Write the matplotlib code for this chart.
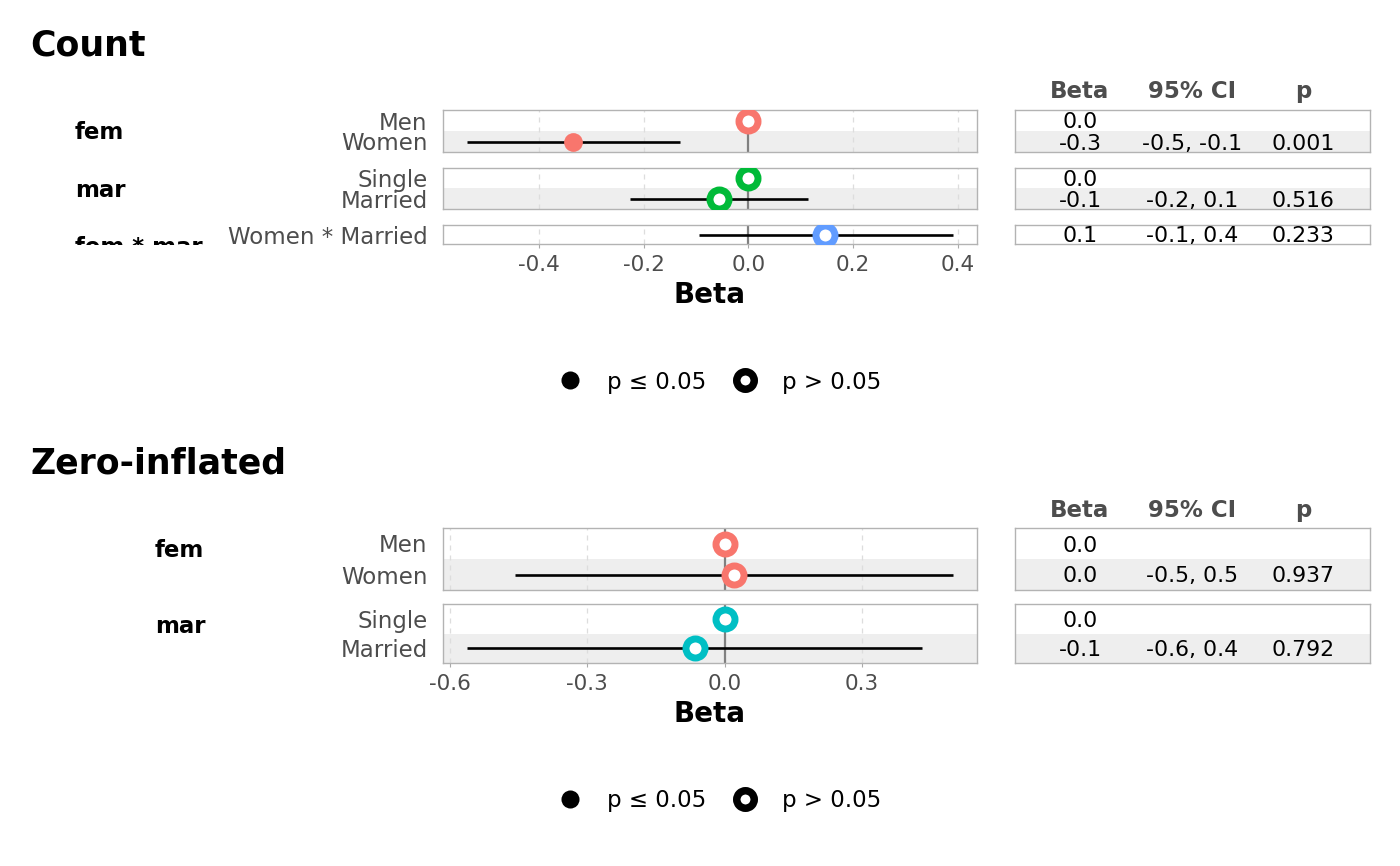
import matplotlib
matplotlib.use("Agg")
import matplotlib.pyplot as plt
import numpy as np
from matplotlib.lines import Line2D

plt.rcParams["font.family"] = ["DejaVu Sans"]
plt.rcParams["axes.unicode_minus"] = False

# === DATA ===
nan = np.nan

count_terms = ["fem", "mar", "fem * mar"]
count_levels = [["Men", "Women"], ["Single", "Married"], ["Women * Married"]]
count_beta = [[0.0, -0.335], [0.0, -0.057], [0.147]]
count_low = [[nan, -0.537], [nan, -0.227], [-0.095]]
count_high = [[nan, -0.130], [nan, 0.114], [0.390]]
count_p = [[nan, 0.001], [nan, 0.516], [0.233]]
count_colors = ["#F8766D", "#00BA38", "#619CFF"]
count_ticks = [-0.4, -0.2, 0.0, 0.2, 0.4]

zero_terms = ["fem", "mar"]
zero_levels = [["Men", "Women"], ["Single", "Married"]]
zero_beta = [[0.0, 0.0195], [0.0, -0.065]]
zero_low = [[nan, -0.458], [nan, -0.562]]
zero_high = [[nan, 0.498], [nan, 0.430]]
zero_p = [[nan, 0.937], [nan, 0.792]]
zero_colors = ["#F8766D", "#00BFC4"]
zero_ticks = [-0.6, -0.3, 0.0, 0.3]

table_headers = ["Beta", "95% CI", "p"]

# === LAYOUT (pixels) ===
W, H = 1400, 866
FS_TICK = 15.5     # x tick labels
FS_LABEL = 16.5    # y labels, strips, legend, headers
TEXT_GREY = "#4D4D4D"
BORDER = "#B3B3B3"

fig = plt.figure(figsize=(W / 100, H / 100), dpi=100)


def box(x0, y0, x1, y1):
    return [x0 / W, 1 - y1 / H, (x1 - x0) / W, (y1 - y0) / H]


def draw_section(title, terms, levels, beta, low, high, pvals, colors, ticks,
                 panels_y, strip_x, title_y, header_y, legend_y):
    vals = [v for grp in (beta + low + high) for v in grp if not np.isnan(v)]
    lo, hi = min(vals), max(vals)
    span = hi - lo
    xlim = (lo - 0.05 * span, hi + 0.05 * span)

    fig.text(30 / W, 1 - title_y / H, title, fontsize=25, fontweight="bold", va="baseline")
    for name, xp in zip(table_headers, [1080, 1192, 1303]):
        fig.text(xp / W, 1 - header_y / H, name, fontsize=FS_LABEL, fontweight="bold",
                 color=TEXT_GREY, ha="center", va="center_baseline")

    for i, term in enumerate(terms):
        y0, y1 = panels_y[i]
        n = len(levels[i])
        rows = np.arange(n)
        last = i == len(terms) - 1

        # --- forest panel ---
        ax = fig.add_axes(box(443, y0, 977, y1))
        ax.set_xlim(xlim)
        ax.set_ylim(n - 0.5, -0.5)
        for r in range(1, n, 2):
            ax.axhspan(r - 0.5, r + 0.5, color="#EEEEEE", lw=0, zorder=0)
        for t in ticks:
            ax.axvline(t, color="#DDDDDD", lw=0.9, ls=(0, (4, 4)), zorder=1)
        ax.axvline(0, color="#808080", lw=1.6, zorder=2)
        for r in rows:
            if not np.isnan(low[i][r]):
                ax.plot([low[i][r], high[i][r]], [r, r], color="black", lw=1.9,
                        solid_capstyle="butt", zorder=3)
            if pvals[i][r] <= 0.05:
                ax.plot(beta[i][r], r, "o", color=colors[i], ms=13.5, mew=0, zorder=4)
            else:
                ax.plot(beta[i][r], r, "o", mfc="white", mec=colors[i], ms=13.7, mew=5.0, zorder=4)
        ax.set_yticks(rows, levels[i])
        ax.tick_params(axis="y", length=0, pad=11, labelsize=FS_LABEL, labelcolor=TEXT_GREY)
        ax.set_xticks(ticks)
        if last:
            ax.set_xticklabels([f"{t:.1f}" for t in ticks])
            ax.tick_params(axis="x", length=3, width=0.8, color="#AAAAAA", pad=5,
                           labelsize=FS_TICK, labelcolor=TEXT_GREY)
            ax.set_xlabel("Beta", fontsize=20, fontweight="bold", labelpad=4)
        else:
            ax.tick_params(axis="x", length=0, labelbottom=False)
        for sp in ax.spines.values():
            sp.set_color(BORDER)
            sp.set_linewidth(1.0)

        # --- table panel ---
        tx = fig.add_axes(box(1015, y0, 1370, y1))
        tx.set_xlim(1015, 1370)
        tx.set_ylim(n - 0.5, -0.5)
        for r in range(1, n, 2):
            tx.axhspan(r - 0.5, r + 0.5, color="#EEEEEE", lw=0, zorder=0)
        for r in rows:
            cells = [f"{beta[i][r]:.1f}", "", ""]
            if not np.isnan(low[i][r]):
                cells[1] = f"{low[i][r]:.1f}, {high[i][r]:.1f}"
                cells[2] = f"{pvals[i][r]:.3f}"
            for txt, xp in zip(cells, [1080, 1192, 1303]):
                tx.text(xp, r, txt, fontsize=15.8, ha="center", va="center_baseline")
        tx.set_xticks([])
        tx.set_yticks([])
        for sp in tx.spines.values():
            sp.set_color(BORDER)
            sp.set_linewidth(1.0)

        # --- strip label (clipped to panel height) ---
        sx = fig.add_axes(box(strip_x - 5, y0, 440, y1 + 1))
        sx.axis("off")
        sx.set_xlim(strip_x - 5, 440)
        sx.set_ylim(y1 + 1, y0)
        sx.text(strip_x, y0 + 29, term, fontsize=FS_LABEL, fontweight="bold",
                ha="left", va="baseline", clip_on=True)

    handles = [
        Line2D([], [], ls="none", marker="o", color="black", ms=13, mew=0),
        Line2D([], [], ls="none", marker="o", mfc="white", mec="black", ms=12.6, mew=5.4),
    ]
    fig.legend(handles, ["p ≤ 0.05", "p > 0.05"], loc="center left",
               bbox_to_anchor=(559 / W, 1 - legend_y / H), ncol=2, frameon=False,
               fontsize=FS_LABEL, handlelength=1.0, handletextpad=1.1, columnspacing=1.2,
               borderpad=0, borderaxespad=0)


draw_section("Count", count_terms, count_levels, count_beta, count_low, count_high,
             count_p, count_colors, count_ticks,
             panels_y=[(110, 152), (168, 209), (225, 244)], strip_x=75,
             title_y=55, header_y=89, legend_y=382)

draw_section("Zero-inflated", zero_terms, zero_levels, zero_beta, zero_low, zero_high,
             zero_p, zero_colors, zero_ticks,
             panels_y=[(528, 590), (604, 663)], strip_x=155,
             title_y=473, header_y=508, legend_y=801)

fig.savefig("out.png", dpi=100)
